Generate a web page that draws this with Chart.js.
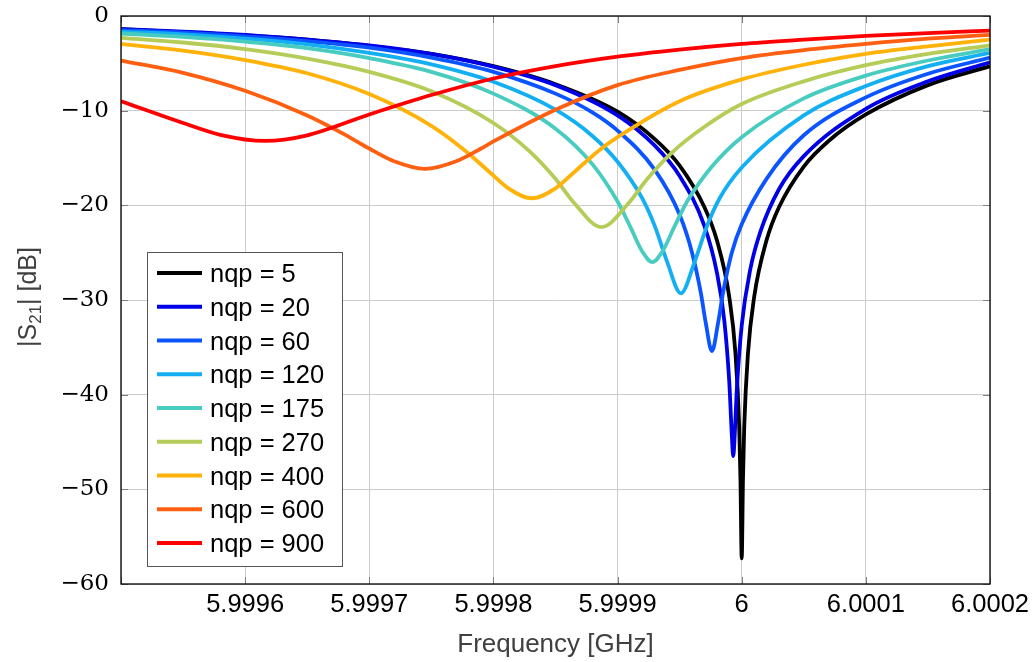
<!DOCTYPE html>
<html>
<head>
<meta charset="utf-8">
<title>|S21| vs frequency</title>
<script src="https://cdn.jsdelivr.net/npm/chart.js@4.4.0/dist/chart.umd.min.js"></script>
<style>
  html, body { margin: 0; padding: 0; background: #fff; }
  #wrap { width: 1034px; height: 662px; }
</style>
</head>
<body>
<div id="wrap"><canvas id="s21-chart" width="1034" height="662"></canvas></div>
<script>
// Значения: частота [ГГц] и |S21| [дБ]
const xTickValues = [5.9995, 5.9996, 5.9997, 5.9998, 5.9999, 6.0, 6.0001, 6.0002];
const xTickLabels = ['', '5.9996', '5.9997', '5.9998', '5.9999', '6', '6.0001', '6.0002'];
const yTickValues = [-60, -50, -40, -30, -20, -10, 0];
const yTickLabels = ['\u221260', '\u221250', '\u221240', '\u221230', '\u221220', '\u221210', '0'];

const nqpLabels = ['nqp = 5', 'nqp = 20', 'nqp = 60', 'nqp = 120', 'nqp = 175',
                   'nqp = 270', 'nqp = 400', 'nqp = 600', 'nqp = 900'];

const freqNqp5 = [5.99950, 5.99955, 5.99960, 5.99965, 5.99970, 5.99975, 5.99980, 5.99985, 5.99990, 5.99993,
                  5.99995, 5.99997, 5.99998, 5.99999, 5.999995, 5.999998, 5.999999, 6.0, 6.000001, 6.000002,
                  6.000005, 6.00001, 6.00002, 6.00003, 6.00005, 6.00007, 6.0001, 6.00015, 6.0002];
const s21Nqp5 = [-1.4, -1.7, -2.05, -2.5, -3.15, -4.0, -5.3, -7.2, -10.1, -13.0,
                 -15.8, -20.2, -23.7, -29.7, -35.7, -43.5, -49.0, -57.3, -49.0, -43.5,
                 -35.7, -29.7, -23.7, -20.2, -15.9, -13.2, -10.4, -7.3, -5.3];

const freqNqp20 = [5.99950, 5.99955, 5.99960, 5.99965, 5.99970, 5.99975, 5.99980, 5.99985, 5.99990, 5.99993,
                   5.99995, 5.99997, 5.99998, 5.999986, 5.99999, 5.999992, 5.9999932, 5.9999945, 5.999996, 6.0,
                   6.000007, 6.000015, 6.00003, 6.00005, 6.0001, 6.00015, 6.0002];
const s21Nqp20 = [-1.4, -1.65, -2.0, -2.5, -3.1, -4.0, -5.35, -7.3, -10.5, -13.7,
                  -16.9, -22.2, -27.1, -32.2, -38.7, -44.2, -46.5, -43.9, -39.6, -32.7,
                  -26.7, -22.8, -18.3, -14.8, -9.8, -6.9, -4.9];

const freqNqp60 = [5.99950, 5.99955, 5.99960, 5.99965, 5.99970, 5.99975, 5.99980, 5.99985, 5.99988, 5.99990,
                   5.99993, 5.99995, 5.99996, 5.999967, 5.999971, 5.999976, 5.999981, 5.999985, 5.999992, 6.0,
                   6.00002, 6.00005, 6.0001, 6.00015, 6.0002];
const s21Nqp60 = [-1.5, -1.75, -2.15, -2.65, -3.35, -4.4, -5.9, -8.2, -10.2, -12.1,
                  -16.25, -21.0, -25.0, -29.2, -32.4, -35.4, -32.4, -29.2, -25.0, -22.0,
                  -17.2, -12.6, -8.6, -6.1, -4.4];

const freqNqp120 = [5.99950, 5.99955, 5.99960, 5.99965, 5.99970, 5.99975, 5.99980, 5.99985, 5.99988, 5.99990,
                    5.99992, 5.99993, 5.99994, 5.999951, 5.999962, 5.999972, 5.999982, 6.0, 6.00005, 6.0001,
                    6.00015, 6.0002];
const s21Nqp120 = [-1.65, -1.95, -2.4, -3.0, -3.9, -5.1, -6.95, -9.9, -12.7, -15.4,
                   -19.3, -22.2, -26.0, -29.3, -26.0, -22.2, -19.3, -16.0, -10.5, -7.4,
                   -5.3, -3.9];

const freqNqp175 = [5.99950, 5.99955, 5.99960, 5.99965, 5.99970, 5.99975, 5.99980, 5.99985, 5.99988, 5.99990,
                    5.99991, 5.99992, 5.999928, 5.999936, 5.999946, 5.999956, 5.999976, 6.0, 6.00005, 6.0001,
                    6.00015, 6.0002];
const s21Nqp175 = [-1.85, -2.2, -2.7, -3.4, -4.45, -5.9, -8.2, -11.9, -15.7, -19.6,
                   -22.2, -24.9, -26.0, -24.9, -22.2, -19.6, -15.9, -12.8, -8.7, -6.3,
                   -4.7, -3.5];

const freqNqp270 = [5.99950, 5.99955, 5.99960, 5.99965, 5.99970, 5.99975, 5.99980, 5.99983, 5.99985, 5.999865,
                    5.999887, 5.999909, 5.999924, 5.999944, 5.99997, 6.0, 6.00005, 6.0001, 6.00015, 6.0002];
const s21Nqp270 = [-2.3, -2.8, -3.5, -4.5, -5.9, -7.95, -11.3, -14.4, -17.2, -19.75,
                   -22.3, -19.75, -17.2, -14.4, -11.7, -9.3, -6.9, -5.2, -4.0, -3.1];

const freqNqp400 = [5.99950, 5.99955, 5.99960, 5.99965, 5.99970, 5.99975, 5.999777, 5.999797, 5.999812, 5.999831,
                    5.99985, 5.999865, 5.999885, 5.99990, 5.99995, 6.0, 6.00005, 6.0001, 6.00015, 6.0002];
const s21Nqp400 = [-2.95, -3.65, -4.65, -6.05, -8.25, -11.6, -14.2, -16.5, -18.2, -19.25,
                   -18.2, -16.5, -14.2, -12.8, -9.0, -6.7, -5.15, -4.0, -3.2, -2.5];

const freqNqp600 = [5.99950, 5.99955, 5.99960, 5.99965, 5.99968, 5.99970, 5.99972, 5.999745, 5.99977, 5.99979,
                    5.99980, 5.99985, 5.99990, 5.99995, 6.0, 6.00005, 6.0001, 6.00015, 6.0002];
const s21Nqp600 = [-4.7, -6.0, -7.9, -10.5, -12.5, -14.0, -15.35, -16.15, -15.35, -14.0,
                   -13.25, -9.9, -7.3, -5.7, -4.45, -3.6, -2.95, -2.4, -2.0];

const freqNqp900 = [5.99950, 5.99955, 5.99958, 5.999616, 5.99965, 5.99970, 5.99975, 5.99980, 5.99985, 5.99990,
                    5.99995, 6.0, 6.00005, 6.0001, 6.00015, 6.0002];
const s21Nqp900 = [-9.0, -11.3, -12.55, -13.2, -12.6, -10.4, -8.35, -6.6, -5.3, -4.3,
                   -3.55, -2.95, -2.5, -2.1, -1.8, -1.55];

const freqSeries = [freqNqp5, freqNqp20, freqNqp60, freqNqp120, freqNqp175, freqNqp270, freqNqp400, freqNqp600, freqNqp900];
const s21Series = [s21Nqp5, s21Nqp20, s21Nqp60, s21Nqp120, s21Nqp175, s21Nqp270, s21Nqp400, s21Nqp600, s21Nqp900];

// цвета линий (палитра jet)
const lineColors = ['#000000', '#0000e6', '#0a55ff', '#14aff2', '#48ccbf', '#b5cd58', '#ffb20a', '#ff5f10', '#ff0000'];

const SANS = '"Liberation Sans", Arial, sans-serif';
const SERIF = '"DejaVu Serif", serif';

// рамка графика и внутренние засечки
const framePlugin = {
    id: 'frame',
    afterDatasetsDraw(chart) {
        const { ctx, chartArea: a, scales } = chart;
        ctx.save();
        ctx.strokeStyle = '#808080';
        ctx.lineWidth = 1;
        ctx.beginPath();
        xTickValues.forEach(v => {
            const px = Math.round(scales.x.getPixelForValue(v)) + 0.5;
            ctx.moveTo(px, a.top); ctx.lineTo(px, a.top + 7);
            ctx.moveTo(px, a.bottom); ctx.lineTo(px, a.bottom - 7);
        });
        yTickValues.forEach(v => {
            const py = Math.round(scales.y.getPixelForValue(v)) + 0.5;
            ctx.moveTo(a.left, py); ctx.lineTo(a.left + 7, py);
            ctx.moveTo(a.right, py); ctx.lineTo(a.right - 7, py);
        });
        ctx.stroke();
        ctx.strokeStyle = '#000';
        ctx.lineWidth = 1.3;
        ctx.strokeRect(a.left, a.top, a.right - a.left, a.bottom - a.top);
        ctx.restore();
    }
};

// легенда в левом нижнем углу области графика
const legendBoxPlugin = {
    id: 'legendBox',
    afterDraw(chart) {
        const { ctx, chartArea: a } = chart;
        const rowH = 33.75;
        const w = 195, h = 314;
        const x0 = a.left + 26, y0 = a.bottom - 18 - h;
        ctx.save();
        ctx.fillStyle = '#fff';
        ctx.fillRect(x0, y0, w, h);
        ctx.strokeStyle = '#555';
        ctx.lineWidth = 1;
        ctx.strokeRect(x0 + 0.5, y0 + 0.5, w, h);
        ctx.font = '25.5px ' + SANS;
        ctx.textBaseline = 'alphabetic';
        ctx.textAlign = 'left';
        chart.data.datasets.forEach((ds, i) => {
            const cy = y0 + 21 + i * rowH;
            ctx.strokeStyle = ds.borderColor;
            ctx.lineWidth = 3.8;
            ctx.beginPath();
            ctx.moveTo(x0 + 10, cy);
            ctx.lineTo(x0 + 55, cy);
            ctx.stroke();
            ctx.fillStyle = '#000';
            ctx.fillText(ds.label, x0 + 63, cy + 9);
        });
        ctx.restore();
    }
};

// подпись оси Y с нижним индексом
const yTitlePlugin = {
    id: 'yTitle',
    afterDraw(chart) {
        const ctx = chart.ctx;
        const parts = [
            { t: '|S', size: 25, dy: 0 },
            { t: '21', size: 17, dy: 5 },
            { t: '| [dB]', size: 25, dy: 0 }
        ];
        ctx.save();
        let total = 0;
        parts.forEach(p => { ctx.font = p.size + 'px ' + SANS; p.w = ctx.measureText(p.t).width; total += p.w; });
        ctx.translate(36, 297);
        ctx.rotate(-Math.PI / 2);
        ctx.fillStyle = '#404040';
        ctx.textBaseline = 'alphabetic';
        let x = -total / 2;
        parts.forEach(p => {
            ctx.font = p.size + 'px ' + SANS;
            ctx.fillText(p.t, x, p.dy);
            x += p.w;
        });
        ctx.restore();
    }
};

const datasets = nqpLabels.map((label, i) => ({
    label: label,
    data: freqSeries[i].map((f, k) => ({ x: f, y: s21Series[i][k] })),
    borderColor: lineColors[i],
    backgroundColor: lineColors[i],
    borderWidth: 3.8,
    pointRadius: 0,
    fill: false,
    cubicInterpolationMode: 'monotone',
    order: nqpLabels.length - i
}));

new Chart(document.getElementById('s21-chart'), {
    type: 'line',
    data: { datasets: datasets },
    options: {
        responsive: false,
        animation: false,
        devicePixelRatio: 1,
        layout: { padding: { top: 16, right: 44, left: 0, bottom: 0 } },
        plugins: {
            legend: { display: false },
            tooltip: { enabled: false }
        },
        scales: {
            x: {
                type: 'linear',
                min: 5.9995,
                max: 6.0002,
                afterBuildTicks: s => { s.ticks = xTickValues.map(v => ({ value: v })); },
                afterFit: s => { s.height = 78; s.paddingLeft = 0; s.paddingRight = 0; },
                ticks: {
                    callback: (v, i) => xTickLabels[i],
                    font: { family: SANS, size: 25.5 },
                    color: '#000',
                    padding: 6,
                    maxRotation: 0,
                    autoSkip: false
                },
                grid: { color: '#cccccc', lineWidth: 1, drawTicks: false },
                border: { display: false },
                title: {
                    display: true,
                    text: 'Frequency [GHz]',
                    font: { family: SANS, size: 26 },
                    color: '#404040',
                    padding: { top: 0, bottom: 2 }
                }
            },
            y: {
                type: 'linear',
                min: -60,
                max: 0,
                afterBuildTicks: s => { s.ticks = yTickValues.map(v => ({ value: v })); },
                afterFit: s => { s.width = 121; s.paddingTop = 0; s.paddingBottom = 0; },
                ticks: {
                    callback: (v, i) => yTickLabels[i],
                    font: { family: SERIF, size: 23 },
                    color: '#000',
                    padding: 12
                },
                grid: { color: '#cccccc', lineWidth: 1, drawTicks: false },
                border: { display: false }
            }
        }
    },
    plugins: [framePlugin, legendBoxPlugin, yTitlePlugin]
});
</script>
</body>
</html>
